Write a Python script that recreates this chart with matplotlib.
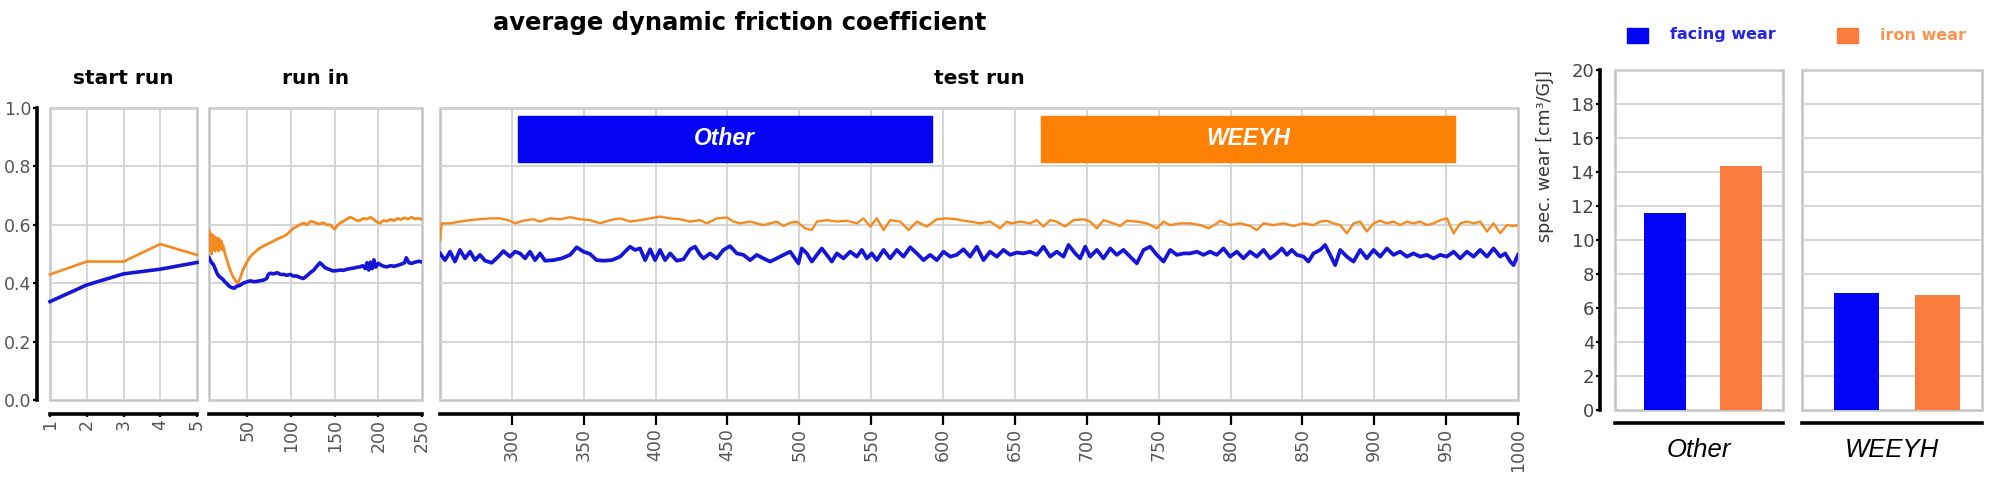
import matplotlib
matplotlib.use("Agg")
import matplotlib.pyplot as plt
from matplotlib.patches import Rectangle

plt.rcParams["font.family"] = ["DejaVu Sans"]
plt.rcParams["lines.solid_joinstyle"] = "round"

# ---- data ---------------------------------------------------------------
start_x = [1, 2, 3, 4, 5]
start_facing = [0.337, 0.394, 0.432, 0.448, 0.471]
start_iron = [0.430, 0.474, 0.474, 0.534, 0.497]

runin_iron_x = [6, 7, 8, 9, 10, 11, 12, 13, 14, 15, 16, 17, 18, 19, 20, 21, 22, 24, 27, 30,
                33, 36, 39, 42, 45, 49, 53, 58, 64, 70, 76, 82, 87, 91, 95, 99, 103, 107, 110,
                115, 118, 122, 126, 129, 133, 137, 141, 145, 148, 150, 153, 156, 160, 164, 168,
                172, 176, 179, 183, 187, 191, 195, 199, 202, 206, 210, 214, 218, 222, 226, 230,
                234, 238, 242, 246, 250]
runin_iron = [0.580, 0.510, 0.570, 0.500, 0.565, 0.515, 0.560, 0.510, 0.555, 0.520, 0.555, 0.510,
              0.550, 0.520, 0.545, 0.515, 0.530, 0.504, 0.475, 0.447, 0.425, 0.410, 0.400, 0.420,
              0.447, 0.470, 0.490, 0.505, 0.520, 0.530, 0.538, 0.548, 0.555, 0.560, 0.566, 0.578,
              0.589, 0.595, 0.600, 0.606, 0.600, 0.611, 0.610, 0.605, 0.603, 0.607, 0.600, 0.600,
              0.590, 0.585, 0.598, 0.606, 0.612, 0.620, 0.626, 0.620, 0.614, 0.615, 0.622, 0.620,
              0.626, 0.618, 0.608, 0.606, 0.615, 0.612, 0.619, 0.614, 0.622, 0.618, 0.624, 0.620,
              0.626, 0.620, 0.622, 0.619]

runin_facing_x = [6, 9, 11, 13, 15, 17, 19, 22, 24, 26, 29, 32, 35, 38, 41, 45, 49, 53, 58, 64,
                  68, 72, 74, 76, 80, 84, 88, 92, 95, 99, 103, 106, 110, 114, 118, 122, 126, 129,
                  133, 136, 139, 143, 148, 152, 156, 160, 164, 168, 172, 176, 179, 182, 185, 187,
                  189, 191, 193, 195, 197, 200, 203, 206, 210, 214, 218, 222, 226, 230, 232, 235,
                  238, 242, 246, 250]
runin_facing = [0.487, 0.470, 0.464, 0.450, 0.435, 0.425, 0.420, 0.413, 0.405, 0.400, 0.390, 0.385,
                0.383, 0.390, 0.392, 0.400, 0.404, 0.408, 0.405, 0.408, 0.410, 0.416, 0.430, 0.434,
                0.432, 0.436, 0.430, 0.430, 0.427, 0.430, 0.424, 0.425, 0.420, 0.416, 0.425, 0.436,
                0.445, 0.456, 0.470, 0.462, 0.453, 0.448, 0.442, 0.443, 0.445, 0.444, 0.448, 0.450,
                0.452, 0.455, 0.456, 0.460, 0.450, 0.470, 0.445, 0.472, 0.450, 0.480, 0.455, 0.468,
                0.462, 0.458, 0.456, 0.460, 0.458, 0.461, 0.465, 0.470, 0.487, 0.470, 0.468, 0.472,
                0.475, 0.473]

test_facing_x = [250.0, 253.5, 257.0, 260.4, 263.9, 267.4, 270.9, 274.4, 277.8, 281.3, 286.0, 290.6,
                 294.1, 298.7, 302.2, 305.7, 309.2, 312.6, 316.1, 319.6, 323.1, 328.9, 334.7, 340.5,
                 345.1, 349.8, 354.4, 359.0, 363.7, 369.5, 375.3, 382.2, 385.7, 389.2, 392.7, 396.2,
                 399.6, 403.1, 406.6, 410.1, 414.7, 419.4, 424.0, 427.5, 431.0, 433.3, 437.9, 442.6,
                 447.2, 451.8, 456.5, 461.1, 465.8, 470.4, 475.0, 479.7, 484.3, 489.0, 493.6, 499.4,
                 501.7, 505.2, 508.7, 512.2, 515.6, 519.1, 522.6, 526.1, 530.7, 535.4, 540.0, 543.5,
                 547.0, 550.4, 553.9, 558.6, 563.2, 567.8, 572.5, 577.1, 581.8, 586.4, 591.0, 595.7,
                 600.3, 605.0, 609.5, 614.2, 618.8, 623.5, 628.1, 632.7, 637.4, 642.0, 646.7, 651.3,
                 655.9, 660.6, 665.2, 669.9, 674.5, 679.1, 683.8, 687.3, 691.9, 695.4, 698.9, 702.3,
                 707.0, 711.6, 716.3, 720.9, 725.5, 730.2, 734.8, 739.5, 744.1, 748.7, 753.4, 758.0,
                 762.7, 767.3, 771.9, 776.6, 781.2, 785.8, 790.4, 795.1, 799.7, 804.4, 809.0, 813.6,
                 818.3, 822.9, 827.6, 832.2, 835.7, 839.2, 842.6, 846.1, 850.8, 854.2, 857.7, 862.4,
                 865.8, 869.3, 872.8, 876.3, 880.9, 885.6, 890.2, 894.8, 899.5, 904.1, 908.8, 913.4,
                 918.0, 922.7, 927.3, 932.0, 936.6, 941.2, 945.9, 950.5, 955.2, 959.8, 964.4, 969.1,
                 973.7, 978.4, 983.0, 987.6, 991.1, 994.6, 996.9, 1000.0]
test_facing = [0.502, 0.479, 0.508, 0.474, 0.514, 0.485, 0.508, 0.479, 0.497, 0.477, 0.470, 0.491,
               0.510, 0.491, 0.508, 0.502, 0.485, 0.508, 0.479, 0.502, 0.477, 0.479, 0.485, 0.497,
               0.523, 0.508, 0.500, 0.479, 0.477, 0.479, 0.491, 0.525, 0.514, 0.519, 0.479, 0.516,
               0.479, 0.514, 0.479, 0.502, 0.477, 0.482, 0.516, 0.525, 0.497, 0.485, 0.502, 0.485,
               0.514, 0.527, 0.502, 0.497, 0.479, 0.497, 0.485, 0.474, 0.485, 0.497, 0.508, 0.468,
               0.519, 0.502, 0.474, 0.497, 0.519, 0.497, 0.474, 0.502, 0.485, 0.508, 0.491, 0.514,
               0.485, 0.502, 0.479, 0.514, 0.485, 0.514, 0.491, 0.523, 0.502, 0.479, 0.497, 0.479,
               0.508, 0.491, 0.497, 0.516, 0.491, 0.525, 0.479, 0.508, 0.491, 0.514, 0.497, 0.505,
               0.502, 0.508, 0.497, 0.525, 0.491, 0.508, 0.491, 0.531, 0.502, 0.485, 0.525, 0.491,
               0.514, 0.485, 0.519, 0.497, 0.514, 0.491, 0.468, 0.514, 0.525, 0.497, 0.474, 0.514,
               0.497, 0.502, 0.502, 0.508, 0.497, 0.508, 0.497, 0.519, 0.491, 0.508, 0.485, 0.508,
               0.491, 0.514, 0.485, 0.502, 0.519, 0.497, 0.514, 0.497, 0.491, 0.474, 0.502, 0.514,
               0.531, 0.497, 0.462, 0.514, 0.491, 0.474, 0.514, 0.485, 0.514, 0.491, 0.519, 0.497,
               0.508, 0.491, 0.502, 0.491, 0.497, 0.485, 0.497, 0.491, 0.508, 0.485, 0.508, 0.491,
               0.514, 0.491, 0.519, 0.491, 0.502, 0.474, 0.462, 0.497]

test_iron_x = [250.0, 251.2, 257.0, 263.9, 270.9, 277.8, 284.8, 291.8, 298.7, 302.2, 308.0, 315.0,
               319.6, 326.6, 333.5, 340.5, 347.4, 354.4, 361.4, 368.3, 375.3, 382.2, 389.2, 396.2,
               403.1, 410.1, 417.0, 424.0, 431.0, 435.6, 442.6, 449.5, 454.2, 458.8, 465.8, 470.4,
               475.0, 484.3, 489.0, 493.6, 498.2, 504.0, 508.7, 512.2, 519.1, 526.1, 533.0, 540.0,
               544.6, 549.3, 553.9, 558.6, 563.2, 570.2, 576.0, 581.8, 588.7, 595.7, 602.6, 609.6,
               611.9, 618.8, 625.8, 632.7, 639.7, 644.3, 647.8, 653.6, 660.6, 665.2, 669.9, 674.5,
               679.1, 684.9, 690.7, 697.7, 702.3, 707.0, 711.6, 718.6, 723.2, 727.9, 734.8, 741.8,
               748.7, 753.4, 758.0, 765.0, 771.9, 778.9, 784.7, 790.5, 792.8, 799.7, 806.7, 813.6,
               818.3, 822.9, 829.9, 836.8, 843.8, 850.8, 857.7, 862.4, 867.0, 871.6, 876.3, 880.9,
               885.6, 890.2, 894.8, 899.5, 904.1, 908.8, 913.4, 918.0, 922.7, 927.3, 932.0, 936.6,
               941.2, 945.9, 950.5, 955.2, 959.8, 964.4, 969.1, 973.7, 978.4, 983.0, 987.6, 992.3,
               996.9, 1000.0]
test_iron = [0.548, 0.605, 0.605, 0.611, 0.616, 0.619, 0.622, 0.622, 0.614, 0.605, 0.614, 0.619,
             0.611, 0.622, 0.619, 0.626, 0.619, 0.616, 0.605, 0.616, 0.622, 0.611, 0.616, 0.622,
             0.628, 0.622, 0.619, 0.611, 0.616, 0.605, 0.622, 0.625, 0.611, 0.605, 0.611, 0.605,
             0.599, 0.611, 0.596, 0.607, 0.611, 0.588, 0.582, 0.611, 0.616, 0.611, 0.614, 0.605,
             0.622, 0.594, 0.622, 0.582, 0.616, 0.611, 0.582, 0.611, 0.594, 0.619, 0.622, 0.619,
             0.616, 0.611, 0.605, 0.611, 0.588, 0.611, 0.605, 0.611, 0.605, 0.616, 0.594, 0.616,
             0.611, 0.594, 0.616, 0.619, 0.611, 0.588, 0.616, 0.605, 0.596, 0.614, 0.611, 0.605,
             0.588, 0.611, 0.599, 0.605, 0.605, 0.599, 0.588, 0.605, 0.614, 0.599, 0.605, 0.596,
             0.582, 0.605, 0.599, 0.605, 0.596, 0.605, 0.599, 0.611, 0.614, 0.605, 0.599, 0.571,
             0.605, 0.611, 0.577, 0.605, 0.614, 0.605, 0.611, 0.599, 0.611, 0.605, 0.611, 0.599,
             0.605, 0.616, 0.622, 0.571, 0.605, 0.611, 0.605, 0.611, 0.577, 0.605, 0.571, 0.599,
             0.596, 0.599]

banner_labels = ["Other", "WEEYH"]
banner_start = [304, 668]
banner_end = [592, 956]

materials = ["Other", "WEEYH"]
facing_wear = [11.6, 6.86]
iron_wear = [14.37, 6.76]

# ---- styles -------------------------------------------------------------
BLUE_LINE = "#1515d8"
ORANGE_LINE = "#f58a1f"
BLUE_BAR = "#0303f5"
ORANGE_BAR = "#fc7c3e"
BANNER_BLUE = "#0404f2"
BANNER_ORANGE = "#fd8104"
GRID = "#d2d2d2"
FRAME = "#c4c4c4"
TICK_TXT = "#555555"
ARIAL = ["Liberation Sans", "DejaVu Sans"]
H, W = 480.0, 2000.0


def setup_panel(ax, xlim, ylim):
    for s in ax.spines.values():
        s.set_visible(False)
    ax.add_patch(Rectangle((0, 0), 1, 1, transform=ax.transAxes, fill=False,
                           ec=FRAME, lw=1.8, clip_on=False, zorder=0.5))
    ax.grid(True, color=GRID, lw=1.3)
    ax.set_axisbelow(True)
    ax.set_xlim(*xlim)
    ax.set_ylim(*ylim)
    sp = ax.spines["bottom"]
    sp.set_visible(True)
    sp.set_position(("outward", 10))
    sp.set_color("black")
    sp.set_linewidth(2.6)


def line_panel(ax, xlim, xticks, title, tick_len):
    setup_panel(ax, xlim, (0, 1.0))
    ax.set_xticks(xticks)
    ax.set_yticks([0, 0.2, 0.4, 0.6, 0.8, 1.0])
    ax.tick_params(axis="x", labelrotation=90, labelsize=12.5, labelcolor=TICK_TXT,
                   length=tick_len, width=1.6, color="black", pad=2)
    ax.tick_params(axis="y", left=False, labelleft=False)
    ax.text(0.5, 1 + 30 / 292, title, transform=ax.transAxes, ha="center", va="center",
            fontsize=14.5, fontweight="bold")


fig = plt.figure(figsize=(20, 4.8), dpi=100)
bottom, height = 1 - 400 / H, 292 / H
ax_start = fig.add_axes([50 / W, bottom, 147 / W, height])
ax_runin = fig.add_axes([209 / W, bottom, 213 / W, height])
ax_test = fig.add_axes([440 / W, bottom, 1078 / W, height])

line_panel(ax_start, (1, 5), start_x, "start run", 2)
line_panel(ax_runin, (6, 250), [50, 100, 150, 200, 250], "run in", 2)
line_panel(ax_test, (250, 1000), list(range(300, 1001, 50)), "test run", 8)

# y axis of the friction panels
sp = ax_start.spines["left"]
sp.set_visible(True)
sp.set_position(("outward", 9.5))
sp.set_color("black")
sp.set_linewidth(2.6)
ax_start.tick_params(axis="y", left=True, labelleft=True, labelsize=12.5, labelcolor=TICK_TXT,
                     length=3, width=1.6, pad=1)
ax_start.set_yticklabels(["0.0", "0.2", "0.4", "0.6", "0.8", "1.0"])

ax_start.plot(start_x, start_iron, color=ORANGE_LINE, lw=1.9, zorder=3, clip_on=False)
ax_start.plot(start_x, start_facing, color=BLUE_LINE, lw=2.6, zorder=3, clip_on=False)
ax_runin.plot(runin_iron_x, runin_iron, color=ORANGE_LINE, lw=2.0, zorder=3)
ax_runin.plot(runin_facing_x, runin_facing, color=BLUE_LINE, lw=2.6, zorder=3)
ax_test.plot(test_iron_x, test_iron, color=ORANGE_LINE, lw=1.7, zorder=3)
ax_test.plot(test_facing_x, test_facing, color=BLUE_LINE, lw=2.7, zorder=3)

for lab, x0, x1, col in zip(banner_labels, banner_start, banner_end, [BANNER_BLUE, BANNER_ORANGE]):
    ax_test.add_patch(Rectangle((x0, 0.815), x1 - x0, 0.158, color=col, zorder=4))
    ax_test.text((x0 + x1) / 2, 0.894, lab, ha="center", va="center", color="white",
                 fontsize=16.5, fontweight="bold", style="italic", family=ARIAL, zorder=5)

fig.text(740 / W, 1 - 23 / H, "average dynamic friction coefficient", ha="center", va="center",
         fontsize=17.5, fontweight="bold")

# ---- wear bars ----------------------------------------------------------
bar_bottom, bar_height = 1 - 410 / H, 340 / H
ax_b1 = fig.add_axes([1615 / W, bar_bottom, 168 / W, bar_height])
ax_b2 = fig.add_axes([1802 / W, bar_bottom, 180 / W, bar_height])
for i, ax in enumerate([ax_b1, ax_b2]):
    setup_panel(ax, (0, 1), (0, 20))
    ax.spines["bottom"].set_position(("outward", 9.5))
    ax.grid(False, axis="x")
    ax.set_yticks(range(0, 21, 2))
    ax.set_xticks([])
    ax.tick_params(axis="y", left=False, labelleft=False)
    ax.bar(0.30, facing_wear[i], width=0.25, color=BLUE_BAR, zorder=3)
    ax.bar(0.75, iron_wear[i], width=0.25, color=ORANGE_BAR, zorder=3)
    ax.set_xlabel(materials[i], style="italic", fontsize=18.5, labelpad=11, family=ARIAL)

sp = ax_b1.spines["left"]
sp.set_visible(True)
sp.set_position(("outward", 11))
sp.set_color("black")
sp.set_linewidth(2.6)
ax_b1.tick_params(axis="y", left=True, labelleft=True, labelsize=13, labelcolor="#444444",
                  length=3, width=1.6, pad=1)

fig.text(1545 / W, 1 - 156 / H, "spec. wear [cm³/GJ]", rotation=90, ha="center", va="center",
         fontsize=12.5, color="#333333")

# legend
fig.patches.append(Rectangle((1627 / W, 1 - 43 / H), 21 / W, 15 / H, color=BLUE_BAR,
                             transform=fig.transFigure, figure=fig))
fig.patches.append(Rectangle((1837 / W, 1 - 43 / H), 21 / W, 15 / H, color=ORANGE_BAR,
                             transform=fig.transFigure, figure=fig))
fig.text(1670 / W, 1 - 35 / H, "facing wear", ha="left", va="center", fontsize=11.5,
         fontweight="bold", color="#2424e2")
fig.text(1880 / W, 1 - 35 / H, "iron wear", ha="left", va="center", fontsize=11.5,
         fontweight="bold", color="#f7924f")

fig.savefig("out.png", dpi=100)
